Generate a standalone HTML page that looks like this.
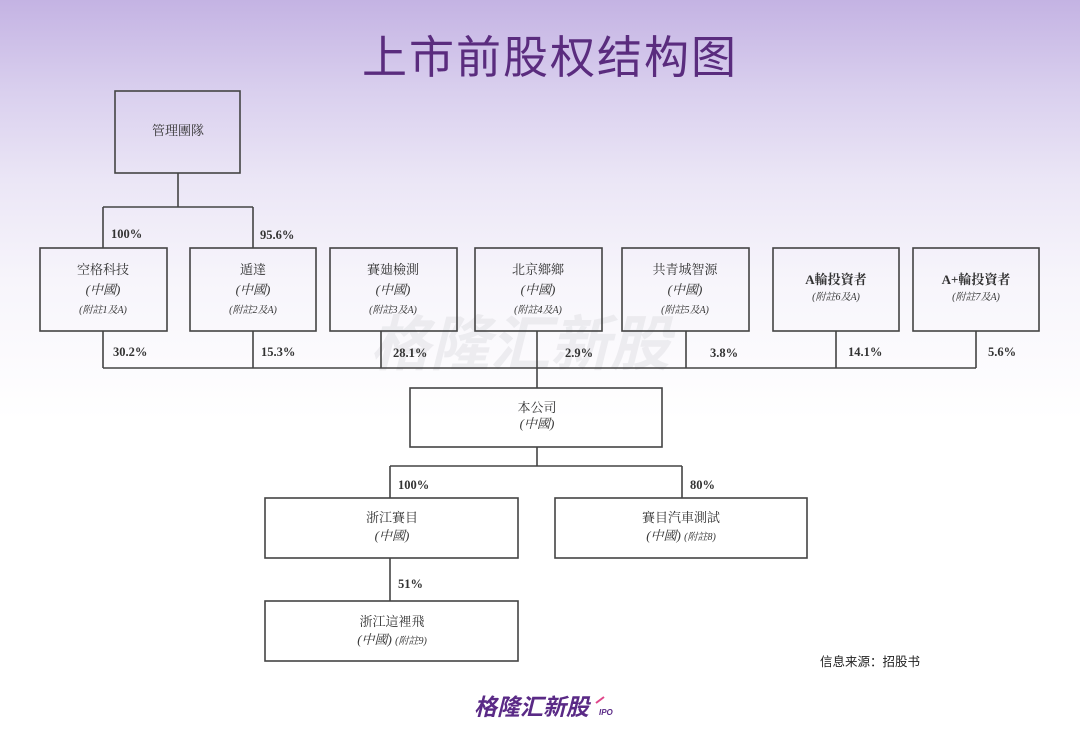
<!DOCTYPE html>
<html><head><meta charset="utf-8"><style>
html,body{margin:0;padding:0}
body{width:1080px;height:750px;overflow:hidden;background:linear-gradient(180deg,#c4b3e3 0px,#d9cfee 90px,#ebe6f6 180px,#f7f5fb 280px,#ffffff 420px);font-family:"Liberation Serif","Noto Serif CJK SC",serif;}
svg{position:absolute;left:0;top:0}
</style></head><body>
<svg width="1080" height="750" viewBox="0 0 1080 750" xmlns="http://www.w3.org/2000/svg">
<text x="550" y="73" font-family="Liberation Sans, Noto Sans CJK SC, sans-serif" font-size="45" fill="#5a2c7e" text-anchor="middle" letter-spacing="2">上市前股权结构图</text>
<text x="520" y="365" font-family="Liberation Sans, Noto Sans CJK SC, sans-serif" font-size="60" font-weight="bold" font-style="italic" fill="#dcdce0" fill-opacity="0.45" text-anchor="middle">格隆汇新股</text>
<g fill="none" stroke="#444" stroke-width="1.6">
<rect x="115" y="91" width="125" height="82"/>
<path d="M178 173V207M103 207H253M103 207V248M253 207V248"/>
<rect x="40" y="248" width="127" height="83"/>
<rect x="190" y="248" width="126" height="83"/>
<rect x="330" y="248" width="127" height="83"/>
<rect x="475" y="248" width="127" height="83"/>
<rect x="622" y="248" width="127" height="83"/>
<rect x="773" y="248" width="126" height="83"/>
<rect x="913" y="248" width="126" height="83"/>
<path d="M103 331V368M253 331V368M381 331V368M537 331V388M686 331V368M836 331V368M976 331V368M103 368H976"/>
<rect x="410" y="388" width="252" height="59"/>
<path d="M537 447V466M390 466H682M390 466V498M682 466V498"/>
<rect x="265" y="498" width="253" height="60"/>
<rect x="555" y="498" width="252" height="60"/>
<path d="M390 558V601"/>
<rect x="265" y="601" width="253" height="60"/>
</g>
<g font-size="13" fill="#333" text-anchor="middle">
<text x="178" y="135">管理團隊</text>
<text x="103" y="274">空格科技</text><text x="103" y="294" font-style="italic">(中國)</text><text x="103" y="313" font-size="10" font-style="italic">(附註1及A)</text>
<text x="253" y="274">遁達</text><text x="253" y="294" font-style="italic">(中國)</text><text x="253" y="313" font-size="10" font-style="italic">(附註2及A)</text>
<text x="393" y="274">賽廸檢測</text><text x="393" y="294" font-style="italic">(中國)</text><text x="393" y="313" font-size="10" font-style="italic">(附註3及A)</text>
<text x="538" y="274">北京鄉鄉</text><text x="538" y="294" font-style="italic">(中國)</text><text x="538" y="313" font-size="10" font-style="italic">(附註4及A)</text>
<text x="685" y="274">共青城智源</text><text x="685" y="294" font-style="italic">(中國)</text><text x="685" y="313" font-size="10" font-style="italic">(附註5及A)</text>
<text x="836" y="284" font-weight="bold">A輪投資者</text><text x="836" y="300" font-size="10" font-style="italic">(附註6及A)</text>
<text x="976" y="284" font-weight="bold">A+輪投資者</text><text x="976" y="300" font-size="10" font-style="italic">(附註7及A)</text>
<text x="537" y="412">本公司</text><text x="537" y="428" font-style="italic">(中國)</text>
<text x="392" y="522">浙江賽目</text><text x="392" y="540" font-style="italic">(中國)</text>
<text x="681" y="522">賽目汽車測試</text><text x="681" y="540" font-style="italic">(中國) <tspan font-size="10">(附註8)</tspan></text>
<text x="392" y="626">浙江這裡飛</text><text x="392" y="644" font-style="italic">(中國) <tspan font-size="10">(附註9)</tspan></text>
</g>
<g font-size="12.5" fill="#333" font-weight="bold">
<text x="111" y="238">100%</text><text x="260" y="239">95.6%</text>
<text x="113" y="356">30.2%</text><text x="261" y="356">15.3%</text><text x="393" y="357">28.1%</text>
<text x="565" y="357">2.9%</text><text x="710" y="357">3.8%</text><text x="848" y="356">14.1%</text><text x="988" y="356">5.6%</text>
<text x="398" y="489">100%</text><text x="690" y="489">80%</text><text x="398" y="588">51%</text>
</g>
<text x="820" y="666" font-family="Liberation Sans, Noto Sans CJK SC, sans-serif" font-size="12.5" fill="#222">信息来源：招股书</text>
<text x="474" y="715" font-family="Liberation Sans, Noto Sans CJK SC, sans-serif" font-size="23" font-weight="bold" font-style="italic" fill="#5a2a86">格隆汇新股</text>
<text x="599" y="715" font-family="Liberation Sans, sans-serif" font-size="8" font-weight="bold" font-style="italic" fill="#5a2a86">IPO</text>
<path d="M596 703l8-6" stroke="#e0468a" stroke-width="2"/>
</svg>
</body></html>
